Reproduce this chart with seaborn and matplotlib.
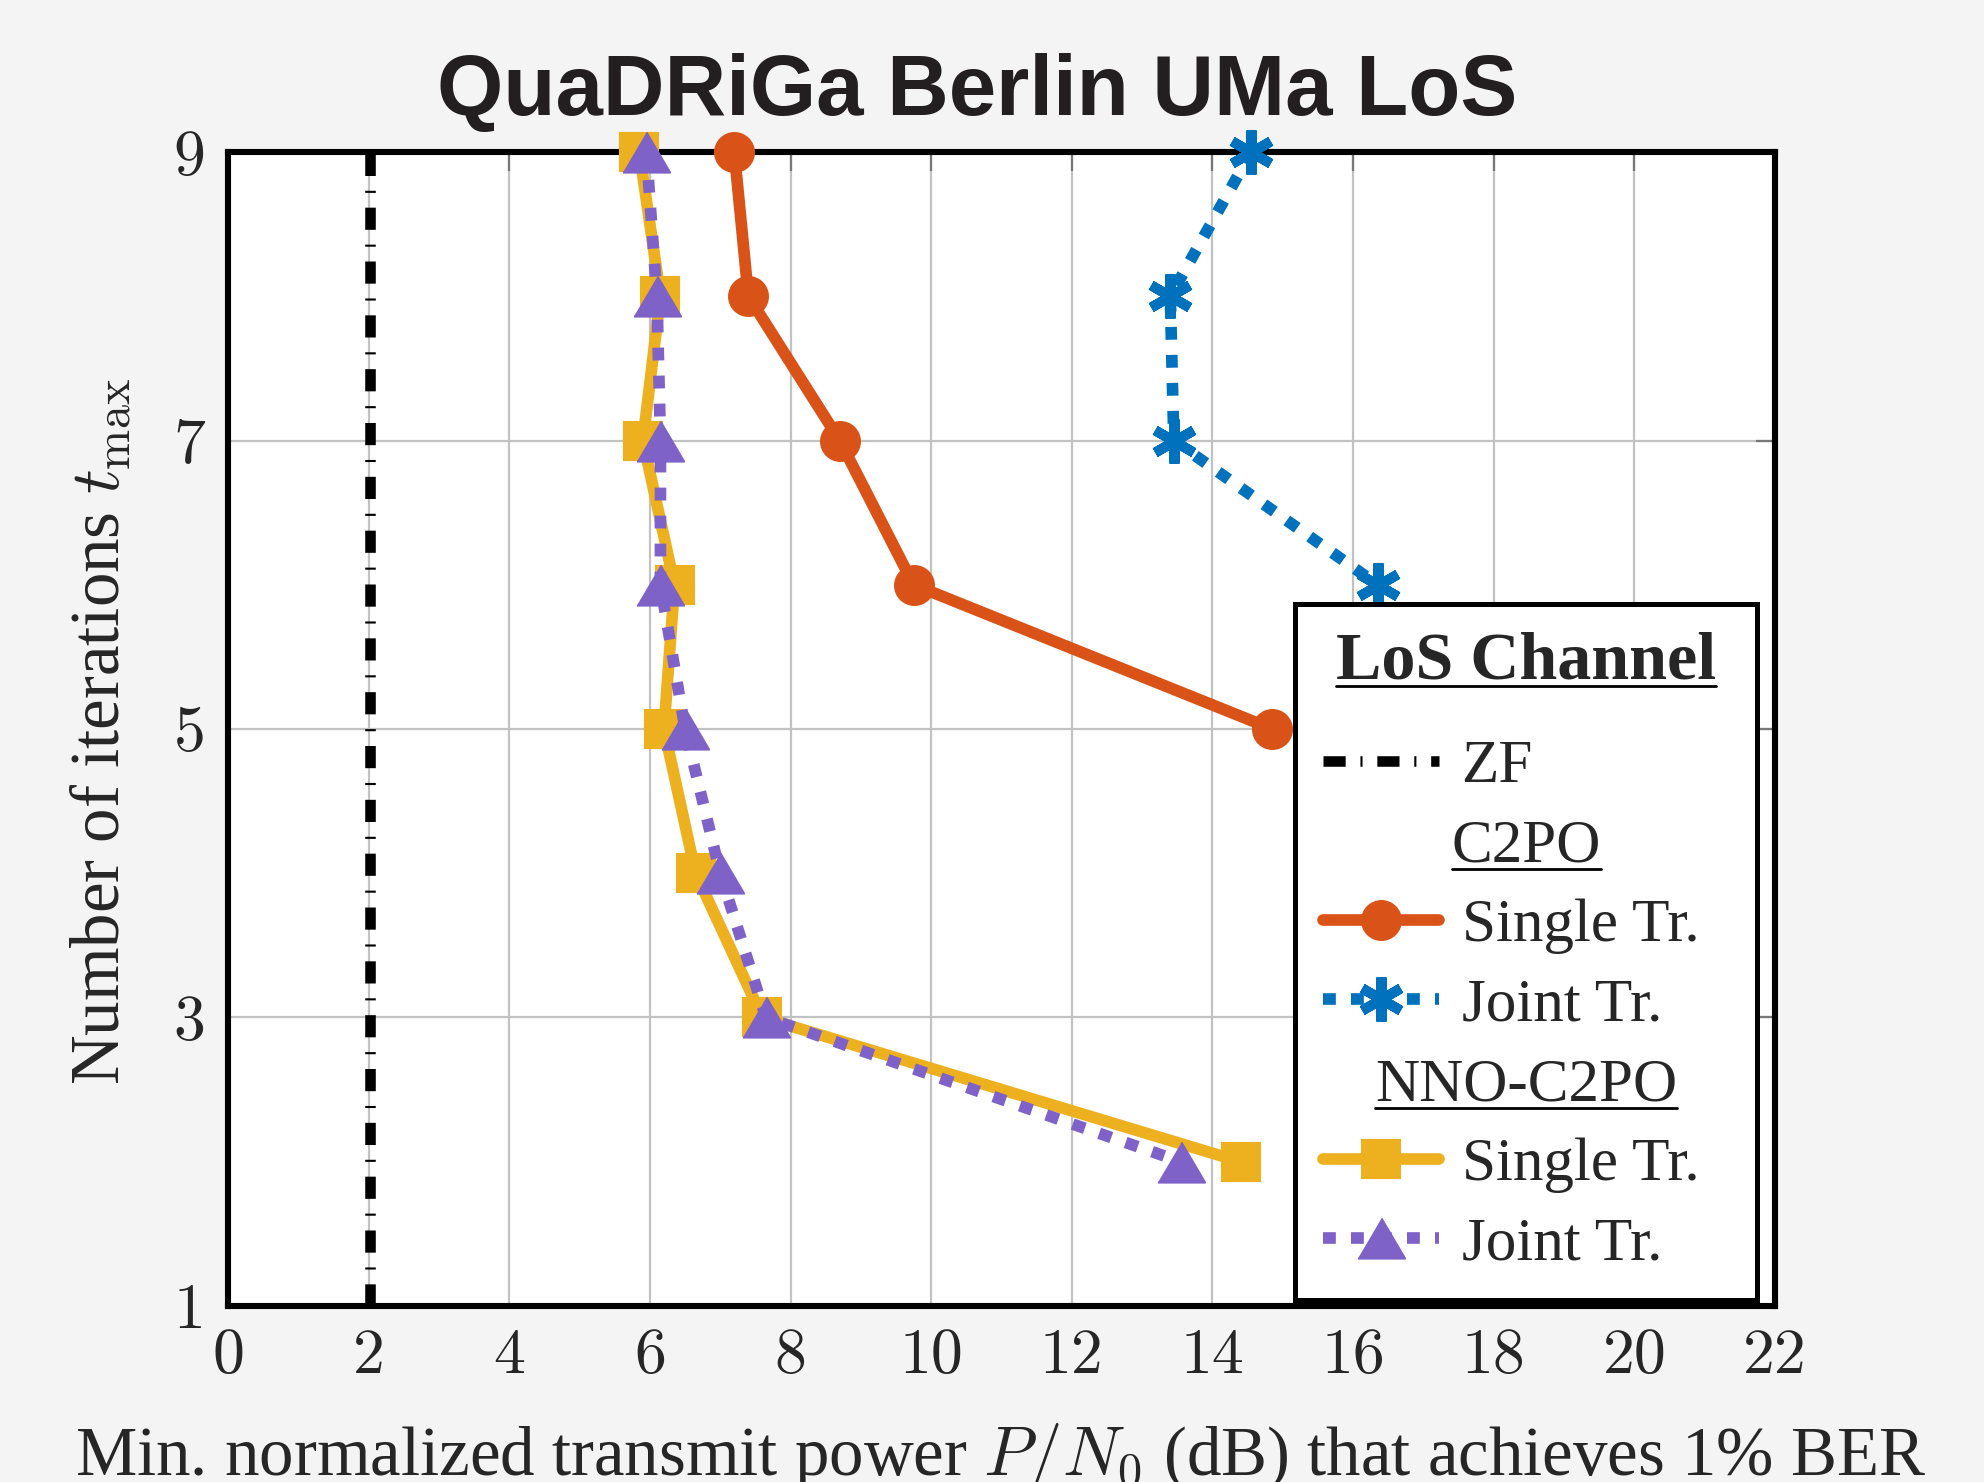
import numpy as np
import matplotlib
matplotlib.use('Agg')
from matplotlib import pyplot as plt
from matplotlib.lines import Line2D
import seaborn as sns

# min. normalized transmit power P/N0 (dB) for each number of iterations
iters_c2po_single = [9, 8, 7, 6, 5]
power_c2po_single = [7.2, 7.4, 8.7, 9.75, 14.85]
iters_c2po_joint = [9, 8, 7, 6]
power_c2po_joint = [14.55, 13.4, 13.45, 16.35]
iters_nno_single = [9, 8, 7, 6, 5, 4, 3, 2]
power_nno_single = [5.85, 6.15, 5.9, 6.35, 6.2, 6.65, 7.6, 14.4]
iters_nno_joint = [9, 8, 7, 6, 5, 4, 3, 2]
power_nno_joint = [5.95, 6.1, 6.15, 6.15, 6.5, 7.0, 7.65, 13.55]
iters_zf = [1, 9]
power_zf = [2.02, 2.02]

x_ticks = list(range(0, 23, 2))
y_ticks = [1, 3, 5, 7, 9]
legend_labels = ['ZF', 'C2PO', 'Single Tr.', 'Joint Tr.', 'NNO-C2PO', 'Single Tr.', 'Joint Tr.']
header_idx = (1, 4)

ORANGE = '#D95319'
BLUE = '#0072BD'
YELLOW = '#EDB120'
PURPLE = '#7E62C8'

sns.set_style('white')
plt.rcParams['font.family'] = ['Liberation Serif', 'DejaVu Serif']
plt.rcParams['mathtext.fontset'] = 'cm'

fig = plt.figure(figsize=(9.92, 7.41), dpi=200, facecolor='#f4f4f4')
ax = fig.add_axes([0.1149, 0.1188, 0.7798, 0.7786])
ax.set_facecolor('white')

LW = 4.2
dotted = (0, (1.1, 1.3))
dashdot = (0, (2.1, 1.4, 0.2, 1.4))
tri = [(-1, -0.85), (1, -0.85), (0, 0.85)]
common = dict(ax=ax, sort=False, estimator=None, clip_on=False, zorder=3)

sns.lineplot(x=power_zf, y=iters_zf, color='k', lw=3.8, linestyle=dashdot, **common)
sns.lineplot(x=power_c2po_single, y=iters_c2po_single, color=ORANGE, lw=LW,
             marker='o', ms=14, mec=ORANGE, **common)
sns.lineplot(x=power_c2po_joint, y=iters_c2po_joint, color=BLUE, lw=LW, linestyle=dotted,
             marker=(6, 2, 0), ms=16, mew=3.6, mec=BLUE, **common)
sns.lineplot(x=power_nno_single, y=iters_nno_single, color=YELLOW, lw=LW,
             marker='s', ms=14, mec=YELLOW, **common)
sns.lineplot(x=power_nno_joint, y=iters_nno_joint, color=PURPLE, lw=LW, linestyle=dotted,
             marker=tri, ms=17, mec=PURPLE, **common)

ax.set_xlim(0, 22)
ax.set_ylim(1, 9)
ax.set_xticks(x_ticks)
ax.set_yticks(y_ticks)
ax.grid(True, color='#c2c2c2', lw=0.8)
ax.tick_params(direction='in', length=7, width=0.8, color='#777777',
               top=True, right=True, labelsize=23, pad=8)
for lab in ax.get_xticklabels() + ax.get_yticklabels():
    lab.set_fontfamily('cmr10')
for sp in ax.spines.values():
    sp.set_visible(True)
    sp.set_color('k')
    sp.set_linewidth(2.2)

ax.set_xlabel(r'Min. normalized transmit power $P/N_0$ (dB) that achieves 1% BER', fontsize=24.8)
ax.xaxis.label.set_va('baseline')
ax.xaxis.set_label_coords(0.4997, -0.1464)
ax.set_ylabel(r'Number of iterations $t_{\max}$', fontsize=24.8)
ax.yaxis.label.set_va('baseline')
ax.yaxis.set_label_coords(-0.0698, 0.498)

fig.text(0.4925, 0.9224, 'QuaDRiGa Berlin UMa LoS', ha='center', va='baseline',
         fontsize=30.7, fontweight='bold', family='Liberation Sans', color='#231f20')

# legend with centred, underlined sub-headers
lines = ax.get_lines()
blank = Line2D([], [], linestyle='none')
handles = [lines[0], blank, lines[1], lines[2], blank, lines[3], lines[4]]
# header rows hold an invisible placeholder that also sets the column width
labels = ['Single Tr.\u00a0\u00a0' if i in header_idx else s for i, s in enumerate(legend_labels)]
LEG_FS = 22
leg = ax.legend(handles, labels, title='LoS Channel', loc='upper right',
                bbox_to_anchor=(0.9884, 0.6083), borderaxespad=0,
                prop={'family': 'Liberation Serif', 'size': LEG_FS},
                title_fontproperties={'family': 'Liberation Serif', 'size': 24.5, 'weight': 'bold'},
                frameon=True, fancybox=False, edgecolor='k', facecolor='white', framealpha=1,
                handlelength=1.9, handletextpad=0.37, borderpad=0.45, labelspacing=0.39)
leg.get_frame().set_linewidth(1.8)
leg.set_zorder(5)
leg._legend_box.sep = 16.8
for i in header_idx:
    leg.get_texts()[i].set_alpha(0)

fig.canvas.draw()
r = fig.canvas.get_renderer()
W, H = fig.bbox.width, fig.bbox.height
lb = leg.get_window_extent(r)
cx = (lb.x0 + lb.x1) / 2
under = [leg.get_title()]
for i in header_idx:
    tb = leg.get_texts()[i].get_window_extent(r)
    under.append(fig.text(cx / W, (tb.y0 + tb.y1) / 2 / H, legend_labels[i], ha='center',
                          va='center', fontsize=LEG_FS, family='Liberation Serif', zorder=10))
fig.canvas.draw()
for t in under:
    bb = t.get_window_extent(r)
    em = t.get_fontsize() * 200 / 72
    y = (bb.y0 + 0.09 * em) / H
    fig.add_artist(Line2D([bb.x0 / W, bb.x1 / W], [y, y], transform=fig.transFigure,
                          color='k', lw=1.0, zorder=10))

fig.savefig('out.png', dpi=200, facecolor=fig.get_facecolor())
